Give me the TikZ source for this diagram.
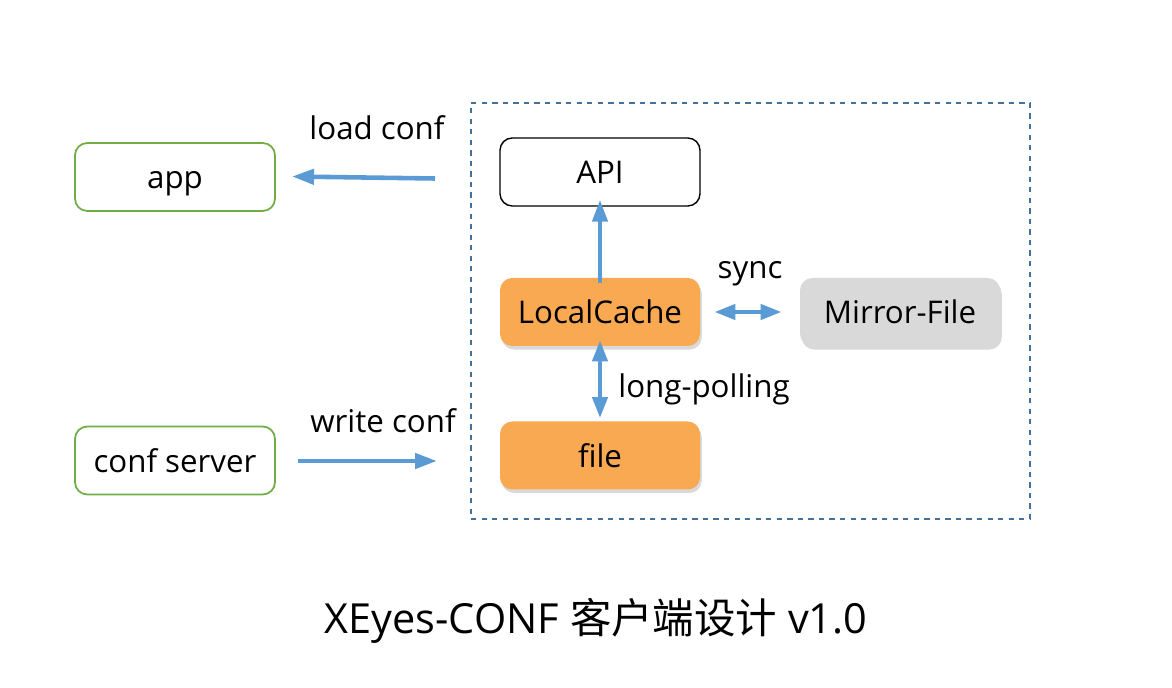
\documentclass[tikz,border=0pt]{standalone}
\usepackage{fontspec}
\setmainfont{Open Sans}
\newfontfamily\cjkfont{Noto Sans CJK SC}
\usetikzlibrary{arrows.meta,shadows}
\definecolor{arrowblue}{HTML}{5B9BD5}
\definecolor{dashblue}{HTML}{41719C}
\definecolor{boxgreen}{HTML}{70AD47}
\definecolor{boxorange}{HTML}{F9A952}
\definecolor{boxgray}{HTML}{D9D9D9}
\tikzset{
  base/.style={rounded corners=7pt, minimum width=200*0.02cm, minimum height=68*0.02cm, font=\fontsize{17.8pt}{20pt}\selectfont, inner sep=0pt, text height=17pt, text depth=3.5pt},
  greenbox/.style={base, draw=boxgreen, line width=1pt, fill=white},
  blackbox/.style={base, draw=black, line width=0.8pt, fill=white},
  orangebox/.style={base, fill=boxorange, drop shadow={shadow xshift=1pt, shadow yshift=-2pt, opacity=0.3}},
  graybox/.style={base, fill=boxgray, drop shadow={shadow xshift=1pt, shadow yshift=-2pt, opacity=0.3}},
  conn/.style={draw=arrowblue, line width=2.6pt, -{Triangle[length=12.5pt,width=8.5pt]}},
  dconn/.style={draw=arrowblue, line width=2.6pt, {Triangle[length=12pt,width=8.5pt]}-{Triangle[length=12pt,width=8.5pt]}},
  lbl/.style={font=\fontsize{17.8pt}{20pt}\selectfont, inner sep=0pt, text height=17pt, text depth=3.5pt}
}
\begin{document}
\begin{tikzpicture}[x=0.02cm,y=-0.02cm]
\useasboundingbox (0,0) rectangle (1172,688);
\node[draw=dashblue, dashed, line width=0.9pt, minimum width=559*0.02cm, minimum height=416*0.02cm, inner sep=0pt] (frame) at (750.5,311) {};
\node[greenbox] (app) at (175,177) {app};
\node[greenbox] (confserver) at (175,460.5) {conf server};
\node[blackbox] (api) at (600,172) {API};
\node[orangebox] (cache) at (600,312) {LocalCache};
\node[graybox] (mirror) at (900,312) {Mirror-File};
\node[orangebox] (file) at (600,455.5) {file};
\coordinate (lstart) at (435,178.5);
\coordinate (lend) at (292,176.5);
\coordinate (wstart) at (298,461);
\coordinate (wend) at (437,461);
\draw[conn] (lstart) -- (lend);
\draw[conn] (wstart) -- (wend);
\draw[conn] ([yshift=-5*0.02cm]cache.north) -- ([yshift=7*0.02cm]api.south);
\draw[dconn] ([xshift=14*0.02cm]cache.east) -- ([xshift=-18*0.02cm]mirror.west);
\draw[dconn] ([yshift=6*0.02cm]cache.south) -- ([yshift=3*0.02cm]file.north);
\node[lbl] (lload) at (377,128) {load conf};
\node[lbl] (lwrite) at (383,421) {write conf};
\node[lbl] (lsync) at (750,267) {sync};
\node[lbl] (llong) at (704,386) {long-polling};
\node[font=\fontsize{23.6pt}{27pt}\selectfont, inner sep=0pt, text height=21pt, text depth=5.9pt] (title) at (596,620) {XEyes-CONF {\cjkfont 客户端设计} v1.0};
\end{tikzpicture}
\end{document}
